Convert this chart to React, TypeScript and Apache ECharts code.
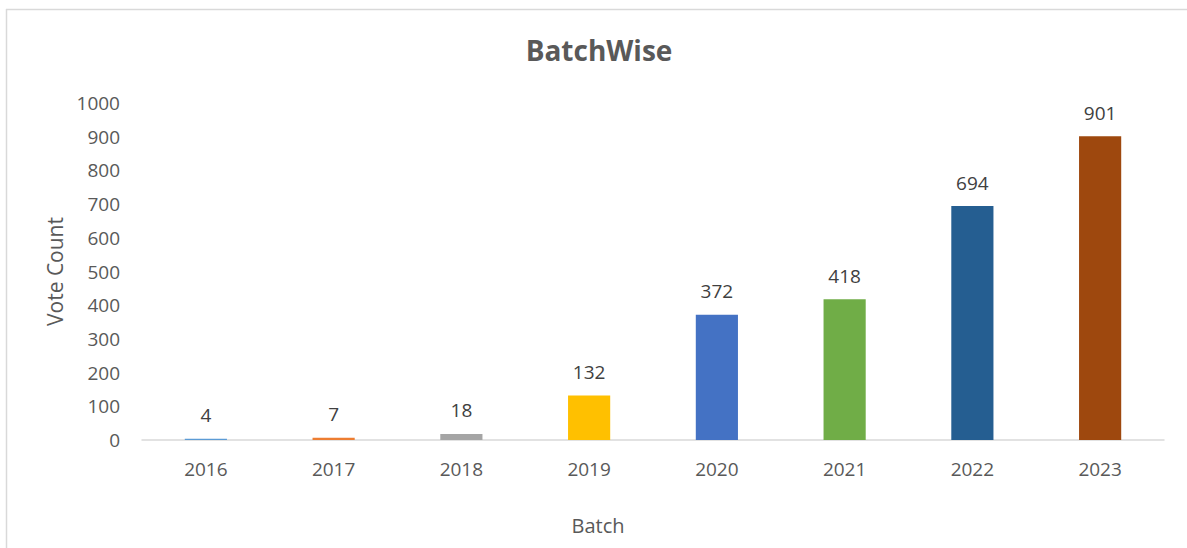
import React, { useEffect, useRef } from "react";
import * as echarts from "echarts";

const categories = ["2016", "2017", "2018", "2019", "2020", "2021", "2022", "2023"];
const voteCounts = [4, 7, 18, 132, 372, 418, 694, 901];
const barColors = ["#5B9BD5", "#ED7D31", "#A5A5A5", "#FFC000", "#4472C4", "#70AD47", "#255E91", "#9E480E"];
const yTicks = { min: 0, max: 1000, interval: 100 };

const FONT = "'Open Sans', 'Noto Sans', sans-serif";
const TEXT = "#595959";

export default function App() {
  const ref = useRef<HTMLDivElement>(null);
  useEffect(() => {
    if (!ref.current) return;
    const chart = echarts.init(ref.current, undefined, { renderer: "svg" });
    chart.setOption({
      animation: false,
      backgroundColor: "#ffffff",
      textStyle: { fontFamily: FONT, color: TEXT },
      title: {
        text: "BatchWise",
        left: 594,
        top: 31,
        textAlign: "center",
        textStyle: { fontFamily: FONT, fontSize: 28, fontWeight: "bold", color: TEXT },
      },
      graphic: [
        { type: "line", shape: { x1: 6, y1: 9.5, x2: 1187, y2: 9.5 }, style: { stroke: "#d9d9d9", lineWidth: 1.5 } },
        { type: "line", shape: { x1: 6.5, y1: 9, x2: 6.5, y2: 548 }, style: { stroke: "#d9d9d9", lineWidth: 1.5 } },
      ],
      grid: { left: 142, right: 23, top: 103, bottom: 108 },
      xAxis: {
        type: "category",
        data: categories,
        name: "Batch",
        nameLocation: "middle",
        nameGap: 75,
        nameTextStyle: { fontFamily: FONT, fontSize: 20, color: TEXT, padding: [0, 110, 0, 0] },
        axisLine: { lineStyle: { color: "#d9d9d9", width: 1.5 } },
        axisTick: { show: false },
        axisLabel: { fontFamily: FONT, fontSize: 19, color: TEXT, margin: 19 },
      },
      yAxis: {
        type: "value",
        min: yTicks.min,
        max: yTicks.max,
        interval: yTicks.interval,
        name: "Vote Count",
        nameLocation: "middle",
        nameGap: 74,
        nameTextStyle: { fontFamily: FONT, fontSize: 21, color: TEXT },
        splitLine: { show: false },
        axisLine: { show: false },
        axisTick: { show: false },
        axisLabel: {
          fontFamily: FONT,
          fontSize: 19,
          color: TEXT,
          margin: 22,
          formatter: (v: number) => String(v),
        },
      },
      series: [
        {
          type: "bar",
          barWidth: "33%",
          data: voteCounts.map((v, i) => ({ value: v, itemStyle: { color: barColors[i] } })),
          label: {
            show: true,
            position: "top",
            distance: 14,
            fontFamily: FONT,
            fontSize: 19,
            color: "#404040",
          },
        },
      ],
    });
    return () => chart.dispose();
  }, []);
  return (
    <div
      ref={ref}
      style={{ position: "fixed", left: 0, top: 0, width: 1187, height: 548, background: "#fff" }}
    />
  );
}
